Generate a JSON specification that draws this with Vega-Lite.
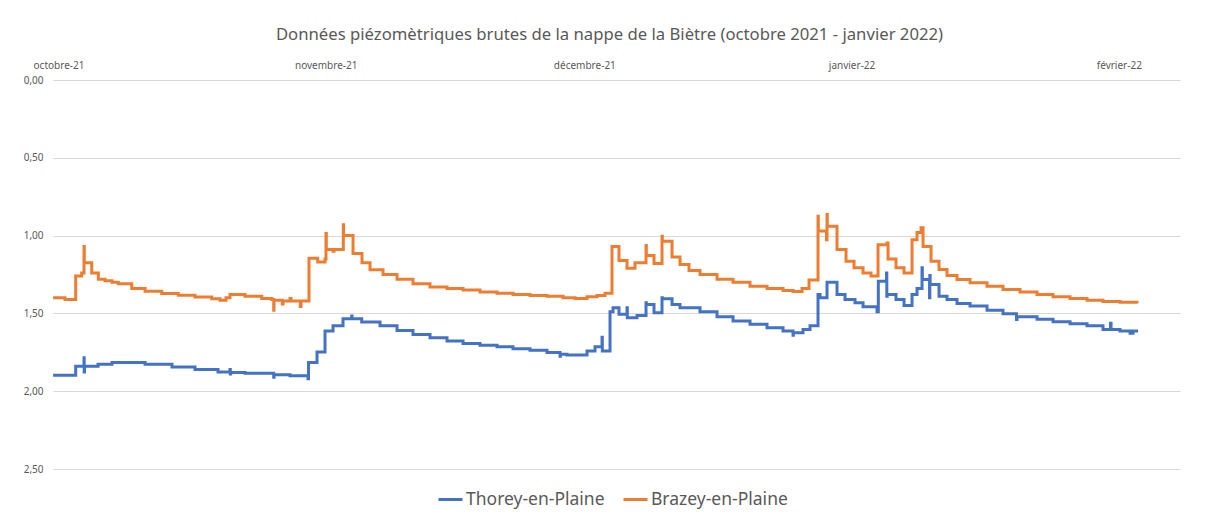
{
  "$schema": "https://vega.github.io/schema/vega-lite/v6.json",
  "width": 1127,
  "height": 389,
  "autosize": "none",
  "padding": {"left": 53, "top": 80, "right": 26, "bottom": 46},
  "background": "white",
  "title": {
    "text": "Données piézomètriques  brutes de la nappe de la Biètre (octobre 2021 - janvier 2022)",
    "anchor": "middle",
    "font": "Noto Sans",
    "fontSize": 16.7,
    "fontWeight": "normal",
    "color": "#595959",
    "offset": 16,
    "dx": -7
  },
  "data": {
    "values": [
      {"station": "Thorey-en-Plaine", "date": "2021-09-30T09:00", "value": 1.897},
      {"station": "Thorey-en-Plaine", "date": "2021-10-02T23:50", "value": 1.84},
      {"station": "Thorey-en-Plaine", "date": "2021-10-03T23:00", "value": 1.785},
      {"station": "Thorey-en-Plaine", "date": "2021-10-03T23:30", "value": 1.876},
      {"station": "Thorey-en-Plaine", "date": "2021-10-04T00:25", "value": 1.84},
      {"station": "Thorey-en-Plaine", "date": "2021-10-05T14:00", "value": 1.827},
      {"station": "Thorey-en-Plaine", "date": "2021-10-07T05:00", "value": 1.816},
      {"station": "Thorey-en-Plaine", "date": "2021-10-11T01:00", "value": 1.827},
      {"station": "Thorey-en-Plaine", "date": "2021-10-14T04:00", "value": 1.844},
      {"station": "Thorey-en-Plaine", "date": "2021-10-16T20:00", "value": 1.86},
      {"station": "Thorey-en-Plaine", "date": "2021-10-19T12:00", "value": 1.876},
      {"station": "Thorey-en-Plaine", "date": "2021-10-20T21:30", "value": 1.86},
      {"station": "Thorey-en-Plaine", "date": "2021-10-20T22:20", "value": 1.89},
      {"station": "Thorey-en-Plaine", "date": "2021-10-20T23:10", "value": 1.88},
      {"station": "Thorey-en-Plaine", "date": "2021-10-22T15:15", "value": 1.885},
      {"station": "Thorey-en-Plaine", "date": "2021-10-25T23:10", "value": 1.91},
      {"station": "Thorey-en-Plaine", "date": "2021-10-26T00:00", "value": 1.895},
      {"station": "Thorey-en-Plaine", "date": "2021-10-27T20:30", "value": 1.9},
      {"station": "Thorey-en-Plaine", "date": "2021-10-29T22:40", "value": 1.92},
      {"station": "Thorey-en-Plaine", "date": "2021-10-30T00:05", "value": 1.816},
      {"station": "Thorey-en-Plaine", "date": "2021-10-30T23:45", "value": 1.748},
      {"station": "Thorey-en-Plaine", "date": "2021-10-31T22:00", "value": 1.613},
      {"station": "Thorey-en-Plaine", "date": "2021-11-01T20:15", "value": 1.58},
      {"station": "Thorey-en-Plaine", "date": "2021-11-03T00:05", "value": 1.534},
      {"station": "Thorey-en-Plaine", "date": "2021-11-04T00:20", "value": 1.517},
      {"station": "Thorey-en-Plaine", "date": "2021-11-04T01:10", "value": 1.534},
      {"station": "Thorey-en-Plaine", "date": "2021-11-05T04:10", "value": 1.556},
      {"station": "Thorey-en-Plaine", "date": "2021-11-07T07:10", "value": 1.58},
      {"station": "Thorey-en-Plaine", "date": "2021-11-09T06:30", "value": 1.61},
      {"station": "Thorey-en-Plaine", "date": "2021-11-11T03:00", "value": 1.635},
      {"station": "Thorey-en-Plaine", "date": "2021-11-13T02:20", "value": 1.656},
      {"station": "Thorey-en-Plaine", "date": "2021-11-15T01:40", "value": 1.677},
      {"station": "Thorey-en-Plaine", "date": "2021-11-16T22:15", "value": 1.694},
      {"station": "Thorey-en-Plaine", "date": "2021-11-18T21:30", "value": 1.705},
      {"station": "Thorey-en-Plaine", "date": "2021-11-20T21:00", "value": 1.714},
      {"station": "Thorey-en-Plaine", "date": "2021-11-22T17:25", "value": 1.727},
      {"station": "Thorey-en-Plaine", "date": "2021-11-24T16:45", "value": 1.737},
      {"station": "Thorey-en-Plaine", "date": "2021-11-26T16:00", "value": 1.752},
      {"station": "Thorey-en-Plaine", "date": "2021-11-28T04:20", "value": 1.775},
      {"station": "Thorey-en-Plaine", "date": "2021-11-28T05:10", "value": 1.763},
      {"station": "Thorey-en-Plaine", "date": "2021-11-28T23:45", "value": 1.767},
      {"station": "Thorey-en-Plaine", "date": "2021-12-01T07:30", "value": 1.741},
      {"station": "Thorey-en-Plaine", "date": "2021-12-02T05:45", "value": 1.714},
      {"station": "Thorey-en-Plaine", "date": "2021-12-03T01:15", "value": 1.654},
      {"station": "Thorey-en-Plaine", "date": "2021-12-03T02:05", "value": 1.741},
      {"station": "Thorey-en-Plaine", "date": "2021-12-03T23:30", "value": 1.49},
      {"station": "Thorey-en-Plaine", "date": "2021-12-04T07:50", "value": 1.464},
      {"station": "Thorey-en-Plaine", "date": "2021-12-05T00:30", "value": 1.506},
      {"station": "Thorey-en-Plaine", "date": "2021-12-05T22:50", "value": 1.464},
      {"station": "Thorey-en-Plaine", "date": "2021-12-05T23:40", "value": 1.528},
      {"station": "Thorey-en-Plaine", "date": "2021-12-07T02:40", "value": 1.513},
      {"station": "Thorey-en-Plaine", "date": "2021-12-08T03:45", "value": 1.432},
      {"station": "Thorey-en-Plaine", "date": "2021-12-08T04:35", "value": 1.442},
      {"station": "Thorey-en-Plaine", "date": "2021-12-09T02:00", "value": 1.496},
      {"station": "Thorey-en-Plaine", "date": "2021-12-10T00:15", "value": 1.4},
      {"station": "Thorey-en-Plaine", "date": "2021-12-10T01:05", "value": 1.406},
      {"station": "Thorey-en-Plaine", "date": "2021-12-11T04:10", "value": 1.442},
      {"station": "Thorey-en-Plaine", "date": "2021-12-12T02:25", "value": 1.464},
      {"station": "Thorey-en-Plaine", "date": "2021-12-14T10:05", "value": 1.49},
      {"station": "Thorey-en-Plaine", "date": "2021-12-16T09:25", "value": 1.521},
      {"station": "Thorey-en-Plaine", "date": "2021-12-18T06:00", "value": 1.549},
      {"station": "Thorey-en-Plaine", "date": "2021-12-20T05:15", "value": 1.57},
      {"station": "Thorey-en-Plaine", "date": "2021-12-22T04:35", "value": 1.592},
      {"station": "Thorey-en-Plaine", "date": "2021-12-24T01:10", "value": 1.613},
      {"station": "Thorey-en-Plaine", "date": "2021-12-25T05:00", "value": 1.64},
      {"station": "Thorey-en-Plaine", "date": "2021-12-25T05:50", "value": 1.624},
      {"station": "Thorey-en-Plaine", "date": "2021-12-26T08:50", "value": 1.603},
      {"station": "Thorey-en-Plaine", "date": "2021-12-27T04:20", "value": 1.58},
      {"station": "Thorey-en-Plaine", "date": "2021-12-28T02:35", "value": 1.378},
      {"station": "Thorey-en-Plaine", "date": "2021-12-28T08:10", "value": 1.4},
      {"station": "Thorey-en-Plaine", "date": "2021-12-29T03:40", "value": 1.3},
      {"station": "Thorey-en-Plaine", "date": "2021-12-30T07:30", "value": 1.378},
      {"station": "Thorey-en-Plaine", "date": "2021-12-31T05:45", "value": 1.41},
      {"station": "Thorey-en-Plaine", "date": "2022-01-01T09:35", "value": 1.432},
      {"station": "Thorey-en-Plaine", "date": "2022-01-02T07:55", "value": 1.457},
      {"station": "Thorey-en-Plaine", "date": "2022-01-03T22:55", "value": 1.49},
      {"station": "Thorey-en-Plaine", "date": "2022-01-04T02:30", "value": 1.293},
      {"station": "Thorey-en-Plaine", "date": "2022-01-05T01:20", "value": 1.24},
      {"station": "Thorey-en-Plaine", "date": "2022-01-05T02:10", "value": 1.39},
      {"station": "Thorey-en-Plaine", "date": "2022-01-05T03:00", "value": 1.378},
      {"station": "Thorey-en-Plaine", "date": "2022-01-06T03:45", "value": 1.41},
      {"station": "Thorey-en-Plaine", "date": "2022-01-07T02:05", "value": 1.449},
      {"station": "Thorey-en-Plaine", "date": "2022-01-08T00:20", "value": 1.378},
      {"station": "Thorey-en-Plaine", "date": "2022-01-08T14:15", "value": 1.34},
      {"station": "Thorey-en-Plaine", "date": "2022-01-09T04:10", "value": 1.207},
      {"station": "Thorey-en-Plaine", "date": "2022-01-09T05:00", "value": 1.282},
      {"station": "Thorey-en-Plaine", "date": "2022-01-10T01:05", "value": 1.4},
      {"station": "Thorey-en-Plaine", "date": "2022-01-10T01:55", "value": 1.256},
      {"station": "Thorey-en-Plaine", "date": "2022-01-10T02:45", "value": 1.314},
      {"station": "Thorey-en-Plaine", "date": "2022-01-11T03:30", "value": 1.39},
      {"station": "Thorey-en-Plaine", "date": "2022-01-12T01:45", "value": 1.41},
      {"station": "Thorey-en-Plaine", "date": "2022-01-13T05:35", "value": 1.436},
      {"station": "Thorey-en-Plaine", "date": "2022-01-14T17:50", "value": 1.453},
      {"station": "Thorey-en-Plaine", "date": "2022-01-16T17:10", "value": 1.479},
      {"station": "Thorey-en-Plaine", "date": "2022-01-18T13:40", "value": 1.502},
      {"station": "Thorey-en-Plaine", "date": "2022-01-20T03:15", "value": 1.54},
      {"station": "Thorey-en-Plaine", "date": "2022-01-20T04:40", "value": 1.521},
      {"station": "Thorey-en-Plaine", "date": "2022-01-22T12:20", "value": 1.538},
      {"station": "Thorey-en-Plaine", "date": "2022-01-24T08:55", "value": 1.553},
      {"station": "Thorey-en-Plaine", "date": "2022-01-26T08:15", "value": 1.566},
      {"station": "Thorey-en-Plaine", "date": "2022-01-28T07:35", "value": 1.58},
      {"station": "Thorey-en-Plaine", "date": "2022-01-30T04:05", "value": 1.603},
      {"station": "Thorey-en-Plaine", "date": "2022-01-31T01:00", "value": 1.564},
      {"station": "Thorey-en-Plaine", "date": "2022-01-31T02:25", "value": 1.603},
      {"station": "Thorey-en-Plaine", "date": "2022-02-01T03:25", "value": 1.613},
      {"station": "Thorey-en-Plaine", "date": "2022-02-02T07:20", "value": 1.628},
      {"station": "Thorey-en-Plaine", "date": "2022-02-02T15:40", "value": 1.613},
      {"station": "Thorey-en-Plaine", "date": "2022-02-03T05:35", "value": 1.613},

      {"station": "Brazey-en-Plaine", "date": "2021-09-30T09:00", "value": 1.40},
      {"station": "Brazey-en-Plaine", "date": "2021-10-01T18:00", "value": 1.41},
      {"station": "Brazey-en-Plaine", "date": "2021-10-02T23:50", "value": 1.26},
      {"station": "Brazey-en-Plaine", "date": "2021-10-03T16:30", "value": 1.24},
      {"station": "Brazey-en-Plaine", "date": "2021-10-03T23:00", "value": 1.07},
      {"station": "Brazey-en-Plaine", "date": "2021-10-03T23:50", "value": 1.175},
      {"station": "Brazey-en-Plaine", "date": "2021-10-04T20:30", "value": 1.24},
      {"station": "Brazey-en-Plaine", "date": "2021-10-05T15:00", "value": 1.28},
      {"station": "Brazey-en-Plaine", "date": "2021-10-06T09:30", "value": 1.29},
      {"station": "Brazey-en-Plaine", "date": "2021-10-07T05:00", "value": 1.30},
      {"station": "Brazey-en-Plaine", "date": "2021-10-07T22:30", "value": 1.31},
      {"station": "Brazey-en-Plaine", "date": "2021-10-09T12:00", "value": 1.34},
      {"station": "Brazey-en-Plaine", "date": "2021-10-11T01:00", "value": 1.357},
      {"station": "Brazey-en-Plaine", "date": "2021-10-12T23:20", "value": 1.372},
      {"station": "Brazey-en-Plaine", "date": "2021-10-14T21:30", "value": 1.383},
      {"station": "Brazey-en-Plaine", "date": "2021-10-16T20:00", "value": 1.395},
      {"station": "Brazey-en-Plaine", "date": "2021-10-18T18:30", "value": 1.406},
      {"station": "Brazey-en-Plaine", "date": "2021-10-19T17:40", "value": 1.415},
      {"station": "Brazey-en-Plaine", "date": "2021-10-20T10:20", "value": 1.40},
      {"station": "Brazey-en-Plaine", "date": "2021-10-20T21:30", "value": 1.378},
      {"station": "Brazey-en-Plaine", "date": "2021-10-22T15:15", "value": 1.39},
      {"station": "Brazey-en-Plaine", "date": "2021-10-24T13:45", "value": 1.404},
      {"station": "Brazey-en-Plaine", "date": "2021-10-25T17:35", "value": 1.41},
      {"station": "Brazey-en-Plaine", "date": "2021-10-25T23:10", "value": 1.48},
      {"station": "Brazey-en-Plaine", "date": "2021-10-26T00:00", "value": 1.415},
      {"station": "Brazey-en-Plaine", "date": "2021-10-26T23:05", "value": 1.44},
      {"station": "Brazey-en-Plaine", "date": "2021-10-27T01:05", "value": 1.42},
      {"station": "Brazey-en-Plaine", "date": "2021-10-27T20:30", "value": 1.405},
      {"station": "Brazey-en-Plaine", "date": "2021-10-27T23:20", "value": 1.42},
      {"station": "Brazey-en-Plaine", "date": "2021-10-29T01:15", "value": 1.455},
      {"station": "Brazey-en-Plaine", "date": "2021-10-29T03:10", "value": 1.42},
      {"station": "Brazey-en-Plaine", "date": "2021-10-30T01:25", "value": 1.145},
      {"station": "Brazey-en-Plaine", "date": "2021-10-31T01:40", "value": 1.17},
      {"station": "Brazey-en-Plaine", "date": "2021-10-31T22:00", "value": 1.15},
      {"station": "Brazey-en-Plaine", "date": "2021-11-01T00:45", "value": 0.987},
      {"station": "Brazey-en-Plaine", "date": "2021-11-01T01:35", "value": 1.09},
      {"station": "Brazey-en-Plaine", "date": "2021-11-01T20:15", "value": 1.10},
      {"station": "Brazey-en-Plaine", "date": "2021-11-01T23:05", "value": 1.09},
      {"station": "Brazey-en-Plaine", "date": "2021-11-03T00:55", "value": 0.93},
      {"station": "Brazey-en-Plaine", "date": "2021-11-03T01:45", "value": 1.0},
      {"station": "Brazey-en-Plaine", "date": "2021-11-04T04:00", "value": 1.115},
      {"station": "Brazey-en-Plaine", "date": "2021-11-05T05:00", "value": 1.175},
      {"station": "Brazey-en-Plaine", "date": "2021-11-06T03:15", "value": 1.22},
      {"station": "Brazey-en-Plaine", "date": "2021-11-07T15:30", "value": 1.25},
      {"station": "Brazey-en-Plaine", "date": "2021-11-09T06:30", "value": 1.28},
      {"station": "Brazey-en-Plaine", "date": "2021-11-11T03:00", "value": 1.31},
      {"station": "Brazey-en-Plaine", "date": "2021-11-13T02:20", "value": 1.33},
      {"station": "Brazey-en-Plaine", "date": "2021-11-15T01:40", "value": 1.34},
      {"station": "Brazey-en-Plaine", "date": "2021-11-16T22:15", "value": 1.35},
      {"station": "Brazey-en-Plaine", "date": "2021-11-18T21:30", "value": 1.363},
      {"station": "Brazey-en-Plaine", "date": "2021-11-20T21:00", "value": 1.37},
      {"station": "Brazey-en-Plaine", "date": "2021-11-22T17:25", "value": 1.378},
      {"station": "Brazey-en-Plaine", "date": "2021-11-24T16:45", "value": 1.385},
      {"station": "Brazey-en-Plaine", "date": "2021-11-26T16:00", "value": 1.39},
      {"station": "Brazey-en-Plaine", "date": "2021-11-28T12:40", "value": 1.40},
      {"station": "Brazey-en-Plaine", "date": "2021-11-29T22:00", "value": 1.405},
      {"station": "Brazey-en-Plaine", "date": "2021-12-01T07:30", "value": 1.393},
      {"station": "Brazey-en-Plaine", "date": "2021-12-02T11:20", "value": 1.385},
      {"station": "Brazey-en-Plaine", "date": "2021-12-03T09:35", "value": 1.37},
      {"station": "Brazey-en-Plaine", "date": "2021-12-04T05:00", "value": 1.07},
      {"station": "Brazey-en-Plaine", "date": "2021-12-05T00:30", "value": 1.16},
      {"station": "Brazey-en-Plaine", "date": "2021-12-05T22:50", "value": 1.21},
      {"station": "Brazey-en-Plaine", "date": "2021-12-06T21:05", "value": 1.175},
      {"station": "Brazey-en-Plaine", "date": "2021-12-08T03:45", "value": 1.064},
      {"station": "Brazey-en-Plaine", "date": "2021-12-08T04:35", "value": 1.128},
      {"station": "Brazey-en-Plaine", "date": "2021-12-09T02:00", "value": 1.18},
      {"station": "Brazey-en-Plaine", "date": "2021-12-10T00:15", "value": 1.004},
      {"station": "Brazey-en-Plaine", "date": "2021-12-10T01:05", "value": 1.036},
      {"station": "Brazey-en-Plaine", "date": "2021-12-11T04:10", "value": 1.137},
      {"station": "Brazey-en-Plaine", "date": "2021-12-12T02:25", "value": 1.186},
      {"station": "Brazey-en-Plaine", "date": "2021-12-13T03:25", "value": 1.224},
      {"station": "Brazey-en-Plaine", "date": "2021-12-14T10:05", "value": 1.25},
      {"station": "Brazey-en-Plaine", "date": "2021-12-16T09:25", "value": 1.28},
      {"station": "Brazey-en-Plaine", "date": "2021-12-18T06:00", "value": 1.30},
      {"station": "Brazey-en-Plaine", "date": "2021-12-20T05:15", "value": 1.325},
      {"station": "Brazey-en-Plaine", "date": "2021-12-22T04:35", "value": 1.34},
      {"station": "Brazey-en-Plaine", "date": "2021-12-24T01:10", "value": 1.353},
      {"station": "Brazey-en-Plaine", "date": "2021-12-25T05:00", "value": 1.36},
      {"station": "Brazey-en-Plaine", "date": "2021-12-26T06:05", "value": 1.34},
      {"station": "Brazey-en-Plaine", "date": "2021-12-27T01:35", "value": 1.286},
      {"station": "Brazey-en-Plaine", "date": "2021-12-28T02:35", "value": 0.876},
      {"station": "Brazey-en-Plaine", "date": "2021-12-28T03:25", "value": 0.97},
      {"station": "Brazey-en-Plaine", "date": "2021-12-29T02:15", "value": 1.026},
      {"station": "Brazey-en-Plaine", "date": "2021-12-29T03:40", "value": 0.865},
      {"station": "Brazey-en-Plaine", "date": "2021-12-29T04:30", "value": 0.94},
      {"station": "Brazey-en-Plaine", "date": "2021-12-30T07:30", "value": 1.09},
      {"station": "Brazey-en-Plaine", "date": "2021-12-31T08:35", "value": 1.165},
      {"station": "Brazey-en-Plaine", "date": "2022-01-01T06:50", "value": 1.207},
      {"station": "Brazey-en-Plaine", "date": "2022-01-02T07:55", "value": 1.24},
      {"station": "Brazey-en-Plaine", "date": "2022-01-03T06:10", "value": 1.26},
      {"station": "Brazey-en-Plaine", "date": "2022-01-04T01:40", "value": 1.058},
      {"station": "Brazey-en-Plaine", "date": "2022-01-05T02:45", "value": 1.047},
      {"station": "Brazey-en-Plaine", "date": "2022-01-05T05:30", "value": 1.15},
      {"station": "Brazey-en-Plaine", "date": "2022-01-06T03:45", "value": 1.207},
      {"station": "Brazey-en-Plaine", "date": "2022-01-07T02:05", "value": 1.24},
      {"station": "Brazey-en-Plaine", "date": "2022-01-08T00:20", "value": 1.026},
      {"station": "Brazey-en-Plaine", "date": "2022-01-08T14:15", "value": 0.98},
      {"station": "Brazey-en-Plaine", "date": "2022-01-09T01:25", "value": 0.95},
      {"station": "Brazey-en-Plaine", "date": "2022-01-09T07:00", "value": 1.07},
      {"station": "Brazey-en-Plaine", "date": "2022-01-10T05:15", "value": 1.165},
      {"station": "Brazey-en-Plaine", "date": "2022-01-11T03:30", "value": 1.218},
      {"station": "Brazey-en-Plaine", "date": "2022-01-12T01:45", "value": 1.256},
      {"station": "Brazey-en-Plaine", "date": "2022-01-13T05:35", "value": 1.282},
      {"station": "Brazey-en-Plaine", "date": "2022-01-14T17:50", "value": 1.303},
      {"station": "Brazey-en-Plaine", "date": "2022-01-16T17:10", "value": 1.325},
      {"station": "Brazey-en-Plaine", "date": "2022-01-18T13:40", "value": 1.346},
      {"station": "Brazey-en-Plaine", "date": "2022-01-20T13:00", "value": 1.363},
      {"station": "Brazey-en-Plaine", "date": "2022-01-22T12:20", "value": 1.378},
      {"station": "Brazey-en-Plaine", "date": "2022-01-24T08:55", "value": 1.393},
      {"station": "Brazey-en-Plaine", "date": "2022-01-26T08:15", "value": 1.404},
      {"station": "Brazey-en-Plaine", "date": "2022-01-28T07:35", "value": 1.415},
      {"station": "Brazey-en-Plaine", "date": "2022-01-30T04:05", "value": 1.423},
      {"station": "Brazey-en-Plaine", "date": "2022-02-01T03:25", "value": 1.428},
      {"station": "Brazey-en-Plaine", "date": "2022-02-03T02:45", "value": 1.436}
    ]
  },
  "mark": {"type": "line", "interpolate": "step-after", "strokeWidth": 3, "strokeJoin": "miter"},
  "encoding": {
    "x": {
      "field": "date",
      "type": "temporal",
      "scale": {
        "domain": [
          {"year": 2021, "month": 9, "date": 30, "hours": 8, "minutes": 40},
          {"year": 2022, "month": 2, "date": 8, "hours": 2, "minutes": 24}
        ]
      },
      "axis": {
        "orient": "top",
        "title": null,
        "grid": false,
        "domain": false,
        "ticks": false,
        "values": [
          {"year": 2021, "month": 10, "date": 1},
          {"year": 2021, "month": 11, "date": 1},
          {"year": 2021, "month": 12, "date": 1},
          {"year": 2022, "month": 1, "date": 1},
          {"year": 2022, "month": 2, "date": 1}
        ],
        "labelExpr": "['janvier','février','mars','avril','mai','juin','juillet','août','septembre','octobre','novembre','décembre'][month(datum.value)] + '-' + timeFormat(datum.value, '%y')",
        "labelFont": "Noto Sans",
        "labelFontSize": 10,
        "labelColor": "#595959",
        "labelPadding": 10,
        "labelOverlap": false,
        "labelFlush": false,
        "labelBound": false
      }
    },
    "y": {
      "field": "value",
      "type": "quantitative",
      "scale": {"domain": [0, 2.5], "reverse": true, "nice": false, "zero": false},
      "axis": {
        "title": null,
        "values": [0, 0.5, 1, 1.5, 2, 2.5],
        "grid": true,
        "gridColor": "#d9d9d9",
        "gridWidth": 1,
        "domain": false,
        "ticks": false,
        "labelExpr": "replace(format(datum.value, '.2f'), '.', ',')",
        "labelFont": "Noto Sans",
        "labelFontSize": 10,
        "labelColor": "#595959",
        "labelPadding": 10
      }
    },
    "color": {
      "field": "station",
      "type": "nominal",
      "scale": {"domain": ["Thorey-en-Plaine", "Brazey-en-Plaine"], "range": ["#4472C4", "#ED7D31"]},
      "legend": {
        "title": null,
        "orient": "none",
        "legendX": 384,
        "legendY": 406,
        "direction": "horizontal",
        "symbolType": "stroke",
        "symbolStrokeWidth": 3,
        "symbolSize": 576,
        "labelFont": "Noto Sans",
        "labelFontSize": 17.5,
        "labelColor": "#595959",
        "labelOffset": 2,
        "columnPadding": 12
      }
    }
  },
  "config": {"view": {"stroke": null}}
}
